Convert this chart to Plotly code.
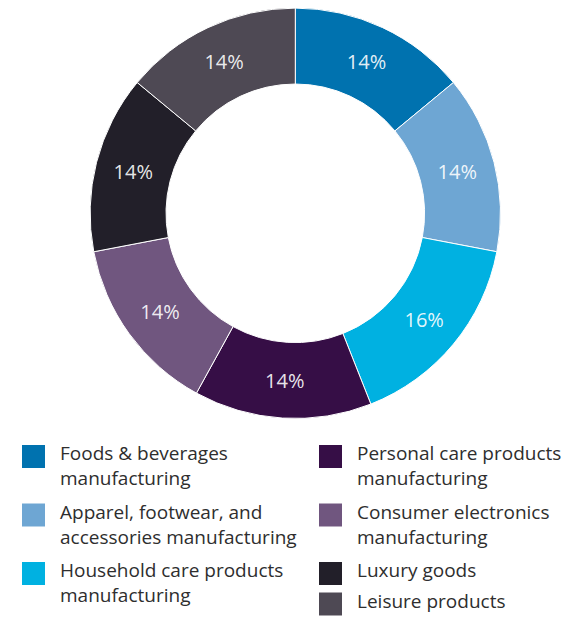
import plotly.graph_objects as go

categories = [
    "Foods & beverages manufacturing",
    "Apparel, footwear, and accessories manufacturing",
    "Household care products manufacturing",
    "Personal care products manufacturing",
    "Consumer electronics manufacturing",
    "Luxury goods",
    "Leisure products",
]
values = [14, 14, 16, 14, 14, 14, 14]
colors = ["#0072AF", "#6EA6D3", "#00B1E1", "#360E46", "#70567F", "#221F29", "#4E4954"]
legend_labels = [
    "Foods & beverages<br>manufacturing",
    "Apparel, footwear, and<br>accessories manufacturing",
    "Household care products<br>manufacturing",
    "Personal care products<br>manufacturing",
    "Consumer electronics<br>manufacturing",
    "Luxury goods",
    "Leisure products",
]

# page has an 8px body margin; size the figure so it fits the window
OFF = 8
W, H = 572 - OFF, 617 - OFF
FONT = "Open Sans"

cx, cy, R = 295.3 - OFF, 213.3 - OFF, 205.2

dom_x = [max(0, (cx - R) / W), min(1, (cx + R) / W)]
dom_y = [max(0, 1 - (cy + R) / H), min(1, 1 - (cy - R) / H)]

fig = go.Figure()
fig.add_trace(go.Pie(
    labels=categories,
    values=values,
    hole=0.63,
    sort=False,
    direction="clockwise",
    rotation=0,
    marker=dict(colors=colors, line=dict(color="white", width=1)),
    texttemplate="%{value}%",
    textposition="inside",
    insidetextorientation="horizontal",
    textfont=dict(family=FONT, size=20, color="rgba(255,255,255,0.9)"),
    showlegend=False,
    domain=dict(x=dom_x, y=dom_y),
))

# legend layout (reference pixel positions of the swatch tops)
legend_pos = [
    (22, 445), (22, 503.5), (22, 562),
    (319, 445), (319, 503.5), (319, 562), (319, 592.5),
]
sq = 23
shapes = []
annotations = []
for (x, y), col, lab in zip(legend_pos, colors, legend_labels):
    x -= OFF
    y -= OFF
    shapes.append(dict(type="rect", xref="paper", yref="paper",
                       x0=x / W, x1=(x + sq) / W, y0=1 - (y + sq) / H, y1=1 - y / H,
                       fillcolor=col, line=dict(width=0)))
    annotations.append(dict(xref="paper", yref="paper", x=(x + 36) / W, y=1 - (y - 7) / H,
                            xanchor="left", yanchor="top", align="left", showarrow=False,
                            text=lab, font=dict(family=FONT, size=19, color="#2E2E2E")))

fig.update_layout(
    width=W, height=H,
    margin=dict(l=0, r=0, t=0, b=0),
    paper_bgcolor="white", plot_bgcolor="white",
    shapes=shapes, annotations=annotations,
    font=dict(family=FONT),
)

fig.write_html("out.html")
